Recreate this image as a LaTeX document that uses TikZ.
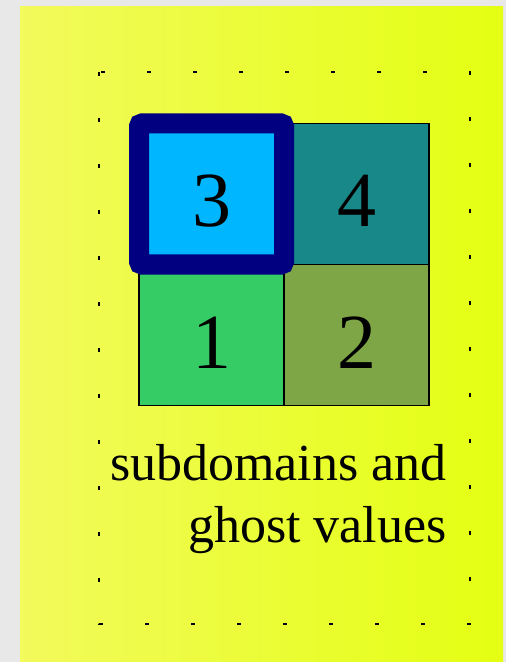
\documentclass[tikz,border=0pt]{standalone}
\usepackage{fontspec}
\setmainfont{Liberation Serif}
\usetikzlibrary{positioning}

\definecolor{bggray}{RGB}{232,232,232}
\definecolor{bgleft}{RGB}{242,250,92}
\definecolor{bgright}{RGB}{228,255,18}
\definecolor{subone}{RGB}{53,204,102}
\definecolor{subtwo}{RGB}{127,166,70}
\definecolor{subthree}{RGB}{0,182,255}
\definecolor{subfour}{RGB}{24,136,136}
\definecolor{ghostnavy}{RGB}{0,0,128}

\begin{document}
\begin{tikzpicture}[
        x=0.5pt, y=-0.5pt,
        node distance=0pt,
        subdomain/.style={
            draw,
            line width=0.6pt,
            inner sep=0pt,
            outer sep=0pt,
            minimum width=72.5pt,
            minimum height=70.5pt,
            font=\fontsize{39}{39}\selectfont,
            text height=33pt,
            text depth=0pt
        },
        ghost/.style={
            subdomain,
            draw=ghostnavy,
            line width=10pt,
            rounded corners=1.5pt
        },
        frame/.style={
            line width=0.9pt,
            dash pattern=on 2pt off 21pt
        },
        caption/.style={
            align=right,
            inner sep=0pt,
            font=\fontsize{26}{31}\selectfont
        }
    ]

    \useasboundingbox (0,0) rectangle (506,662);
    \fill[bggray] (0,0) rectangle (506,662);
    \shade[left color=bgleft, right color=bgright] (20,7) rectangle (503,662);
    \draw[frame] (99,72) rectangle (470,624);

    \node[subdomain, fill=subone] (sub1) at (211.5,335) {1};
    \node[subdomain, fill=subtwo, right=of sub1] (sub2) {2};
    \node[subdomain, fill=subfour, above=of sub2] (sub4) {4};
    \node[ghost, fill=subthree, above=of sub1] (sub3) {3};

    \node[caption, anchor=base east] (caption) at (447,542) {subdomains and\\ghost values};

    \end{tikzpicture}
\end{document}
